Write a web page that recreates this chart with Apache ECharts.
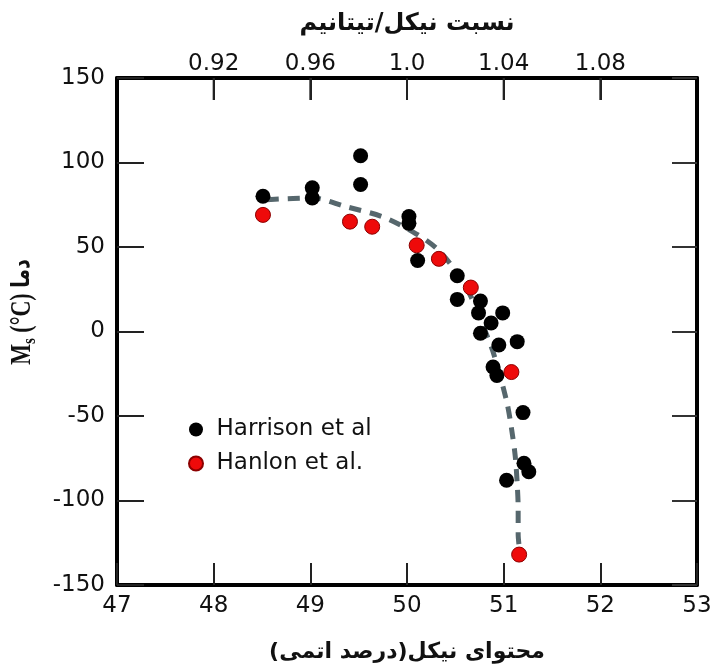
<!DOCTYPE html>
<html>
<head>
<meta charset="utf-8">
<script src="https://cdn.jsdelivr.net/npm/echarts@6/dist/echarts.min.js"></script>
<style>
  html, body { margin: 0; padding: 0; background: #fff; }
  #chart { width: 716px; height: 668px; }
</style>
</head>
<body>
<div id="chart"></div>
<script>
// Harrison et al (black dots): [Ni at.%, Ms °C]
var harrisonPoints = [
    [48.51, 80], [49.02, 85], [49.02, 79], [49.52, 104], [49.52, 87],
    [50.02, 68], [50.02, 64], [50.11, 42], [50.52, 33], [50.52, 19],
    [50.76, 18], [50.74, 11], [50.99, 11], [50.87, 5], [50.76, -1],
    [50.95, -8], [51.14, -6], [50.89, -21], [50.93, -26], [51.20, -48],
    [51.21, -78], [51.26, -83], [51.03, -88]
];
// Hanlon et al (red dots)
var hanlonPoints = [
    [48.51, 69], [49.41, 65], [49.64, 62], [50.10, 51],
    [50.33, 43], [50.66, 26], [51.08, -24], [51.16, -132]
];
// dashed trend curve
var trendPoints = [
    [48.55, 78], [49.03, 79], [49.36, 74], [49.74, 68], [50.06, 59],
    [50.31, 49], [50.50, 36], [50.65, 22], [50.76, 7], [50.89, -12],
    [51.03, -41], [51.08, -57], [51.12, -74], [51.14, -90], [51.15, -105],
    [51.15, -120], [51.16, -127]
];
// Ni/Ti ratio labels shown on the top axis at Ni = 48..52 at.%
var ratioTicks = ['0.92', '0.96', '1.0', '1.04', '1.08'];
// top-axis tick anchors: [Ni at.%, top of the Ms range]
var ratioTickNi = ratioTicks.map(function (_, i) { return [48 + i, 150]; });

var chart = echarts.init(document.getElementById('chart'));

var tickFont = { fontFamily: 'DejaVu Sans', fontSize: 23, color: '#111' };
var faTitle = { fontFamily: 'DejaVu Sans', fontWeight: 'bold', fontSize: 22, color: '#111' };

function axisBase(extra) {
    var base = {
        type: 'value',
        splitLine: { show: false },
        axisLine: { show: true, onZero: false, lineStyle: { color: '#000', width: 4 } },
        axisTick: { show: true, inside: true, length: 22, lineStyle: { color: '#222', width: 2 } },
        axisLabel: Object.assign({}, tickFont)
    };
    return Object.assign(base, extra);
}

var option = {
    backgroundColor: '#fff',
    animation: false,
    grid: { left: 117, right: 19, top: 78, bottom: 83 },
    legend: {
        data: ['Harrison et al', 'Hanlon et al.'],
        orient: 'vertical',
        left: 183,
        top: 413,
        itemWidth: 15,
        itemHeight: 14,
        itemGap: 11,
        icon: 'circle',
        textStyle: { fontFamily: 'DejaVu Sans', fontSize: 23, color: '#111', padding: [0, 0, 0, 8] }
    },
    xAxis: [
        axisBase({
            position: 'bottom',
            min: 47, max: 53, interval: 1,
            axisLabel: Object.assign({}, tickFont, { margin: 10 }),
            name: '\u200Fمحتوای نیکل(درصد اتمی)\u200F',
            nameLocation: 'middle',
            nameGap: 56,
            nameTextStyle: faTitle
        }),
        axisBase({
            position: 'top',
            min: 47, max: 53, interval: 1,
            axisLabel: Object.assign({}, tickFont, {
                margin: 2,
                showMinLabel: false,
                showMaxLabel: false,
                formatter: function (v) {
                    return ratioTicks[Math.round(v) - 48] || '';
                }
            }),
            name: 'نسبت نیکل/تیتانیم',
            nameLocation: 'middle',
            nameGap: 42,
            nameTextStyle: Object.assign({}, faTitle, { fontSize: 24 })
        })
    ],
    yAxis: [
        axisBase({
            position: 'left',
            min: -150, max: 150, interval: 50,
            axisTick: { show: true, inside: true, length: 27, lineStyle: { color: '#222', width: 2 } },
            axisLabel: Object.assign({}, tickFont, { margin: 12 })
        }),
        axisBase({
            position: 'right',
            min: -150, max: 150, interval: 50,
            axisTick: { show: true, inside: true, length: 25, lineStyle: { color: '#333', width: 2 } },
            axisLabel: { show: false }
        })
    ],
    graphic: [
        {
            type: 'text',
            x: 23,
            y: 312,
            rotation: Math.PI / 2,
            scaleY: 1.3,
            style: {
                text: '{m|M}{s|s}{m| (°C) }{f|دما}',
                align: 'center',
                verticalAlign: 'middle',
                fill: '#111',
                rich: {
                    m: { fontFamily: 'Liberation Serif', fontWeight: 'bold', fontSize: 22, lineHeight: 26 },
                    s: { fontFamily: 'Liberation Serif', fontWeight: 'bold', fontSize: 15, lineHeight: 26, verticalAlign: 'bottom' },
                    f: { fontFamily: 'DejaVu Sans', fontWeight: 'bold', fontSize: 19, lineHeight: 26 }
                }
            }
        }
    ],
    series: [
        {
            // tick marks hanging from the top (Ni/Ti ratio) axis
            name: 'ratioTicks',
            type: 'custom',
            xAxisIndex: 1,
            yAxisIndex: 0,
            data: ratioTickNi,
            clip: false,
            silent: true,
            zlevel: 1,
            z: 10,
            renderItem: function (params, api) {
                var p = api.coord([api.value(0), api.value(1)]);
                return {
                    type: 'line',
                    shape: { x1: p[0], y1: p[1], x2: p[0], y2: p[1] + 22 },
                    style: { stroke: '#222', lineWidth: 2, fill: null }
                };
            }
        },
        {
            name: 'trend',
            type: 'line',
            data: trendPoints,
            smooth: 0.3,
            showSymbol: false,
            z: 1,
            lineStyle: { color: '#56676d', width: 5, type: [12, 9], cap: 'butt' }
        },
        {
            name: 'Harrison et al',
            type: 'scatter',
            data: harrisonPoints,
            symbolSize: 15,
            z: 3,
            itemStyle: { color: '#000', opacity: 1 }
        },
        {
            name: 'Hanlon et al.',
            type: 'scatter',
            data: hanlonPoints,
            symbolSize: 15,
            z: 4,
            itemStyle: { color: '#ee0a0a', borderColor: '#8c0000', borderWidth: 1, opacity: 1 }
        }
    ]
};

option && chart.setOption(option);
</script>
</body>
</html>
